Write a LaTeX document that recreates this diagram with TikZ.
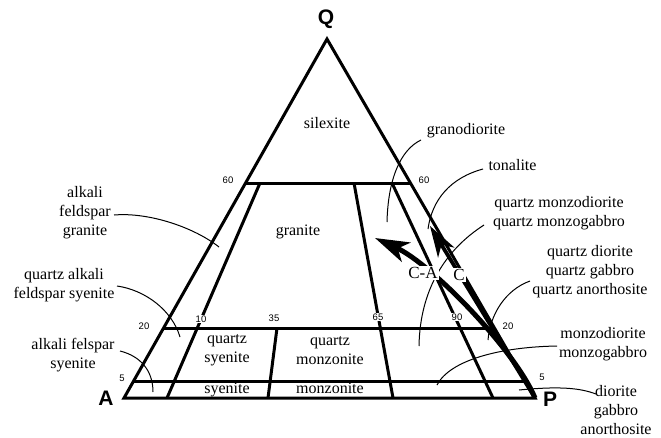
\documentclass[tikz,border=0pt]{standalone}
\usepackage{fontspec}
\setmainfont{Liberation Serif}
\newfontfamily\hv{Liberation Sans}
\usetikzlibrary{arrows.meta}
\begin{document}
\begin{tikzpicture}[x=1pt,y=-1pt,
  gridline/.style={line width=3pt},
  leader/.style={line width=1pt},
  lbl/.style={font=\fontsize{16}{19}\selectfont, align=center, inner sep=0pt},
  num/.style={font=\hv\fontsize{9.5}{11}\selectfont, inner sep=1pt, fill=white},
  vtx/.style={font=\hv\bfseries\fontsize{21}{24}\selectfont, inner sep=0pt},
  bigarrow/.style={-{Stealth[length=34pt,width=21pt,inset=9pt]}},
  smallarrow/.style={-{Stealth[length=31pt,width=19pt,inset=9pt]}},
  tag/.style={font=\fontsize{17}{19}\selectfont, fill=white, inner sep=1pt}
]
\useasboundingbox (0,0) rectangle (661,437);

% vertices and grid points
\coordinate (A) at (124,398);
\coordinate (P) at (535,398);
\coordinate (Q) at (327,39);
\coordinate (l60) at (245.6,183); \coordinate (r60) at (410.4,183);
\coordinate (l20) at (163.6,328); \coordinate (r20) at (494.4,328);
\coordinate (l5) at (133.6,381);  \coordinate (r5) at (525.2,381);
\coordinate (t10) at (260,183); \coordinate (b10) at (167,398);
\coordinate (t35) at (277,328); \coordinate (b35) at (268,398);
\coordinate (t65) at (354,183); \coordinate (b65) at (393,398);
\coordinate (t90) at (392,183); \coordinate (b90) at (493,398);

\draw[gridline] (A) -- (P) -- (Q) -- cycle;
\draw[gridline] (l60) -- (r60);
\draw[gridline] (l20) -- (r20);
\draw[gridline] (l5) -- (r5);
\draw[gridline] (t10) -- (b10);
\draw[gridline] (t35) -- (b35);
\draw[gridline] (t65) -- (b65);
\draw[gridline] (t90) -- (b90);

% vertex labels
\node[vtx] (Ql) at (326,19) {Q};
\node[vtx] (Al) at (106,398) {A};
\node[vtx] (Pl) at (550,399) {P};

% numbers
\node[num] (n60l) at (228,180) {60};
\node[num] (n60r) at (424,180) {60};
\node[num] (n20l) at (144,326) {20};
\node[num] (n20r) at (508,326) {20};
\node[num] (n5l) at (122,378) {5};
\node[num] (n5r) at (542,377) {5};
\node[num] (n10) at (201,319) {10};
\node[num] (n35) at (274,318) {35};
\node[num] (n65) at (378,317) {65};
\node[num] (n90) at (457,317) {90};

% field labels
\node[lbl] (silexite) at (327,123) {silexite};
\node[lbl] (granite) at (298,232) {granite};
\node[lbl] (qsyenite) at (227,350.5) {quartz\\syenite};
\node[lbl] (qmonzonite) at (330,350.5) {quartz\\monzonite};
\node[lbl, anchor=base] (syenite) at (227,393) {syenite};
\node[lbl, anchor=base] (monzonite) at (330,393) {monzonite};

% outside labels
\node[lbl] (afg) at (85,213) {alkali\\feldspar\\granite};
\node[lbl] (qafs) at (64,285) {quartz alkali\\feldspar syenite};
\node[lbl] (afs) at (73,355) {alkali felspar\\syenite};
\node[lbl] (gd) at (466,131) {granodiorite};
\node[lbl] (ton) at (512.5,165) {tonalite};
\node[lbl] (qmd) at (559,213.5) {quartz monzodiorite\\quartz monzogabbro};
\node[lbl] (qd) at (590,271.5) {quartz diorite\\quartz gabbro\\quartz anorthosite};
\node[lbl] (md) at (603,344) {monzodiorite\\monzogabbro};
\node[lbl] (dio) at (616,410.5) {diorite\\gabbro\\anorthosite};

% leader end points
\coordinate (afgA) at (114,215);  \coordinate (afgB) at (219,247);
\coordinate (qafsA) at (117,286); \coordinate (qafsB) at (180,337);
\coordinate (afsA) at (120,351);  \coordinate (afsB) at (153,392);
\coordinate (gdA) at (421,140);   \coordinate (gdB) at (387,222);
\coordinate (tonA) at (483,169);  \coordinate (tonB) at (428,229);
\coordinate (qmdA) at (484,225);  \coordinate (qmdB) at (419,346);
\coordinate (qdA) at (530,281);   \coordinate (qdB) at (488,340);
\coordinate (mdA) at (557,346);   \coordinate (mdB) at (437,385);
\coordinate (dioA) at (596,394);  \coordinate (dioB) at (519,390);

\draw[leader] (afgA) .. controls (150,212) and (195,228) .. (afgB);
\draw[leader] (qafsA) .. controls (145,290) and (172,310) .. (qafsB);
\draw[leader] (afsA) .. controls (140,356) and (153,370) .. (afsB);
\draw[leader] (gdA) .. controls (400,150) and (388,180) .. (gdB);
\draw[leader] (tonA) .. controls (450,178) and (432,200) .. (tonB);
\draw[leader] (qmdA) .. controls (445,250) and (420,290) .. (qmdB);
\draw[leader] (qdA) .. controls (505,290) and (490,315) .. (qdB);
\draw[leader] (mdA) .. controls (500,347) and (450,360) .. (mdB);
\draw[leader] (dioA) .. controls (580,388) and (560,386) .. (dioB);

% arrows
\coordinate (caTip) at (375,238);
\coordinate (cTip) at (430,226);
\draw[line width=5pt, bigarrow] (P) .. controls (515,350) and (432,264) .. (caTip);
\draw[line width=3.8pt, smallarrow] (P) -- (cTip);

\node[tag] (CA) at (423,273) {C-A};
\node[tag] (C) at (459,275) {C};
\end{tikzpicture}
\end{document}
